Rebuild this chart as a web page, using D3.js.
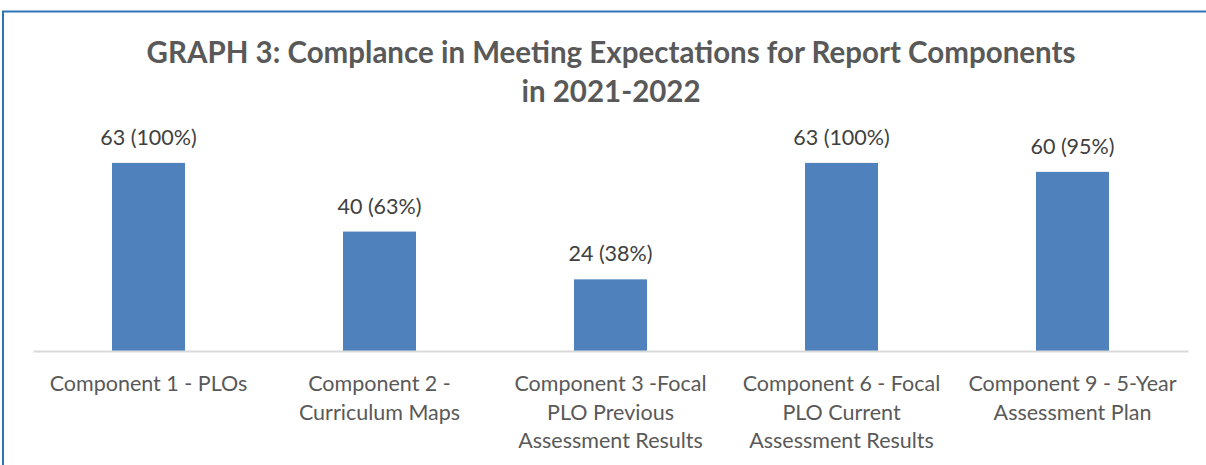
<!DOCTYPE html>
<html>
<head>
<meta charset="utf-8">
<script src="https://cdn.jsdelivr.net/npm/d3@7"></script>
<style>
  body { margin: 0; background: #fff; }
  text { font-family: Lato, 'Open Sans', sans-serif; fill: #595959; }
</style>
</head>
<body>
<div id="chart"></div>
<script>
// chart data
const titleLines = ['GRAPH 3: Complance in Meeting Expectations for Report Components', 'in 2021-2022'];
const categories = [
  'Component 1 - PLOs',
  'Component 2 -\nCurriculum Maps',
  'Component 3 -Focal\nPLO Previous\nAssessment Results',
  'Component 6 - Focal\nPLO Current\nAssessment Results',
  'Component 9 - 5-Year\nAssessment Plan'
];
const counts = [63, 40, 24, 63, 60];
const percents = [100, 63, 38, 100, 95];

const width = 1206;
const height = 465;
const margin = {top: 142, right: 18, bottom: 114, left: 33};

const svg = d3
  .select('#chart')
  .append('svg')
  .attr('width', width)
  .attr('height', height);

// outer frame (continues past the right / bottom edge)
svg
  .append('rect')
  .attr('x', 3)
  .attr('y', 11.5)
  .attr('width', width + 20)
  .attr('height', height + 20)
  .attr('fill', 'none')
  .attr('stroke', '#2E75B6')
  .attr('stroke-width', 2);

const x = d3
  .scaleBand()
  .domain(categories)
  .range([margin.left, width - margin.right])
  .paddingInner(0.684)
  .paddingOuter(0.342);

const y = d3
  .scaleLinear()
  .domain([0, 70])
  .range([height - margin.bottom, margin.top]);

// title
svg
  .append('text')
  .attr('text-anchor', 'middle')
  .style('font-size', '29.5px')
  .style('font-weight', 'bold')
  .selectAll('tspan')
  .data(titleLines)
  .join('tspan')
  .attr('x', 611)
  .attr('y', (d, i) => 63 + i * 39)
  .text(d => d);

// bars
svg
  .append('g')
  .selectAll('rect')
  .data(counts)
  .join('rect')
  .attr('x', (d, i) => x(categories[i]))
  .attr('y', d => y(d))
  .attr('width', x.bandwidth())
  .attr('height', d => y(0) - y(d))
  .attr('fill', '#4F81BD');

// value labels
svg
  .append('g')
  .selectAll('text')
  .data(counts)
  .join('text')
  .attr('x', (d, i) => x(categories[i]) + x.bandwidth() / 2)
  .attr('y', d => y(d) - 18)
  .attr('text-anchor', 'middle')
  .style('font-size', '21.5px')
  .style('fill', '#404040')
  .text((d, i) => `${d} (${percents[i]}%)`);

// x axis
const xAxis = svg
  .append('g')
  .attr('transform', 'translate(0,' + y(0) + ')')
  .call(d3.axisBottom(x).tickSize(0).tickFormat(''));
xAxis.select('.domain').attr('stroke', '#D9D9D9').attr('stroke-width', 2);

xAxis
  .selectAll('.tick')
  .append('text')
  .attr('text-anchor', 'middle')
  .style('font-size', '21.5px')
  .style('fill', '#595959')
  .selectAll('tspan')
  .data(d => d.split('\n'))
  .join('tspan')
  .attr('x', 0)
  .attr('y', (d, i) => 40 + i * 28.5)
  .text(d => d);
</script>
</body>
</html>
